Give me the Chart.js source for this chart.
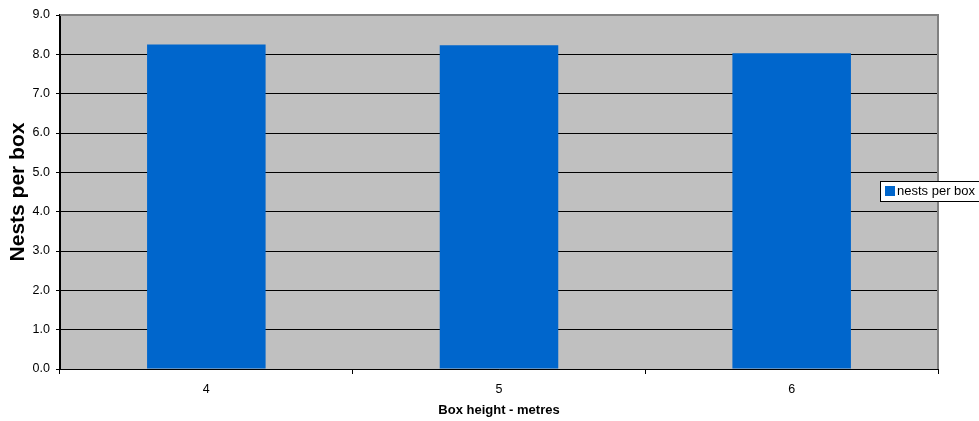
<!DOCTYPE html>
<html>
<head>
<meta charset="utf-8">
<script src="https://cdn.jsdelivr.net/npm/chart.js@4/dist/chart.umd.min.js"></script>
<style>
  html, body { margin: 0; padding: 0; background: #ffffff; }
  #wrap { width: 979px; height: 421px; position: relative; }
</style>
</head>
<body>
<div id="wrap"><canvas id="c" width="979" height="421"></canvas></div>
<script>
// Box heights (metres) and average nests per box
const boxHeights = ['4', '5', '6'];
const nestsPerBox = [8.25, 8.23, 8.03];
const seriesName = 'nests per box';
const yTickValues = [0, 1, 2, 3, 4, 5, 6, 7, 8, 9];

const FONT = '"Liberation Sans", Arial, sans-serif';
const BAR_COLOR = '#0066CC';

// Grey plot background plus the grey frame on the top and right edges
const plotFrame = {
  id: 'plotFrame',
  beforeDraw(chart) {
    const { ctx, chartArea: a } = chart;
    ctx.save();
    ctx.fillStyle = '#C0C0C0';
    ctx.fillRect(a.left, a.top, a.right - a.left, a.bottom - a.top);
    ctx.restore();
  },
  afterDatasetsDraw(chart) {
    const { ctx, chartArea: a } = chart;
    ctx.save();
    ctx.strokeStyle = '#808080';
    ctx.lineWidth = 2;
    ctx.beginPath();
    ctx.moveTo(a.left, a.top);
    ctx.lineTo(a.right, a.top);
    ctx.lineTo(a.right, a.bottom);
    ctx.stroke();
    ctx.restore();
  }
};

// Boxed legend on the right side
const boxLegend = {
  id: 'boxLegend',
  afterDraw(chart) {
    const { ctx } = chart;
    const ds = chart.data.datasets[0];
    ctx.save();
    ctx.fillStyle = '#ffffff';
    ctx.fillRect(880.5, 181.5, 100, 20);
    ctx.strokeStyle = '#000000';
    ctx.lineWidth = 1;
    ctx.strokeRect(880.5, 181.5, 100, 20);
    ctx.fillStyle = ds.backgroundColor;
    ctx.fillRect(885, 186, 10, 10);
    ctx.fillStyle = '#000000';
    ctx.font = '13px ' + FONT;
    ctx.textBaseline = 'middle';
    ctx.textAlign = 'left';
    ctx.fillText(ds.label, 897, 191.5);
    ctx.restore();
  }
};

new Chart(document.getElementById('c'), {
  type: 'bar',
  data: {
    labels: boxHeights,
    datasets: [{
      label: seriesName,
      data: nestsPerBox,
      backgroundColor: BAR_COLOR,
      borderWidth: 0,
      barPercentage: 0.405,
      categoryPercentage: 1.0
    }]
  },
  options: {
    responsive: false,
    animation: false,
    devicePixelRatio: 1,
    layout: { padding: { left: 0, right: 41, top: 15, bottom: 0 } },
    plugins: {
      legend: { display: false },
      tooltip: { enabled: false }
    },
    scales: {
      x: {
        offset: true,
        grid: {
          offset: true,
          drawOnChartArea: false,
          drawTicks: true,
          tickLength: 5,
          color: '#000000'
        },
        border: { display: true, color: '#000000', width: 1 },
        ticks: {
          color: '#000000',
          font: { family: FONT, size: 12.5 },
          padding: 8,
          maxRotation: 0
        },
        title: {
          display: true,
          text: 'Box height - metres',
          color: '#000000',
          font: { family: FONT, size: 13, weight: 'bold' },
          padding: { top: 4, bottom: 3 }
        },
        afterFit(scale) { scale.height = 52; }
      },
      y: {
        min: 0,
        max: 9,
        afterBuildTicks(scale) {
          scale.ticks = yTickValues.map(v => ({ value: v }));
        },
        grid: {
          drawTicks: true,
          tickLength: 4,
          color: (c) => (c.tick && c.tick.value === 9) ? '#808080' : '#000000',
          tickColor: '#000000',
          lineWidth: 1
        },
        border: { display: true, color: '#000000', width: 2 },
        ticks: {
          color: '#000000',
          font: { family: FONT, size: 12.5 },
          padding: 6,
          callback: (v) => Number(v).toFixed(1)
        },
        title: {
          display: true,
          text: 'Nests per box',
          color: '#000000',
          font: { family: FONT, size: 21, weight: 'bold' },
          padding: { top: 6, bottom: 3 }
        },
        afterFit(scale) { scale.width = 60; }
      }
    }
  },
  plugins: [plotFrame, boxLegend]
});
</script>
</body>
</html>
